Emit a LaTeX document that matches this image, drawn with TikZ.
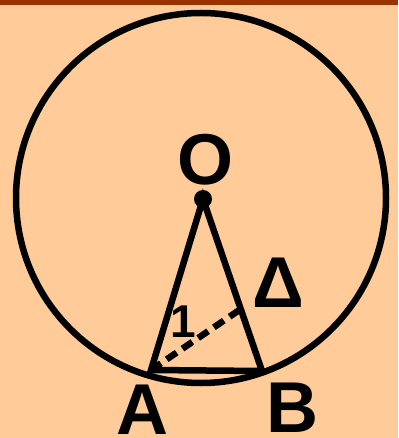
\documentclass[tikz,border=0pt]{standalone}
\usepackage{fontspec}
\setmainfont{Liberation Sans}
\usepackage{xcolor}
\usepackage{tikz}
\usetikzlibrary{positioning,calc}
\definecolor{peach}{HTML}{FFCC99}
\definecolor{rust}{HTML}{993300}

\begin{document}
\begin{tikzpicture}[x=1pt,y=-1pt,line width=6.5pt,
  lbl/.style={font=\bfseries\fontsize{72}{72}\selectfont, inner sep=0pt}]
\fill[peach] (0,0) rectangle (398,438);
\fill[rust] (0,0) rectangle (398,5);
\useasboundingbox (0,0) rectangle (398,438);
\coordinate (O) at (203,199);
\coordinate (A) at (151,370);
\coordinate (B) at (262,371);
\coordinate (H) at ($(O)!0.64!(B)$);
\draw (201,198) circle (185);
\draw (O) -- (A) -- (B) -- cycle;
\draw[dash pattern=on 12pt off 7pt] (A) -- (H);
\fill (O) circle (9);
\node[lbl] (labO) at (205,160) {O};
\node[lbl] (labA) at (142,410) {A};
\node[lbl] (labB) at (292,408) {B};
\node[lbl] (labD) at (278,283) {Δ};
\node[font=\bfseries\fontsize{46}{46}\selectfont, inner sep=0pt] (lab1) at (183,322) {1};
\end{tikzpicture}
\end{document}
